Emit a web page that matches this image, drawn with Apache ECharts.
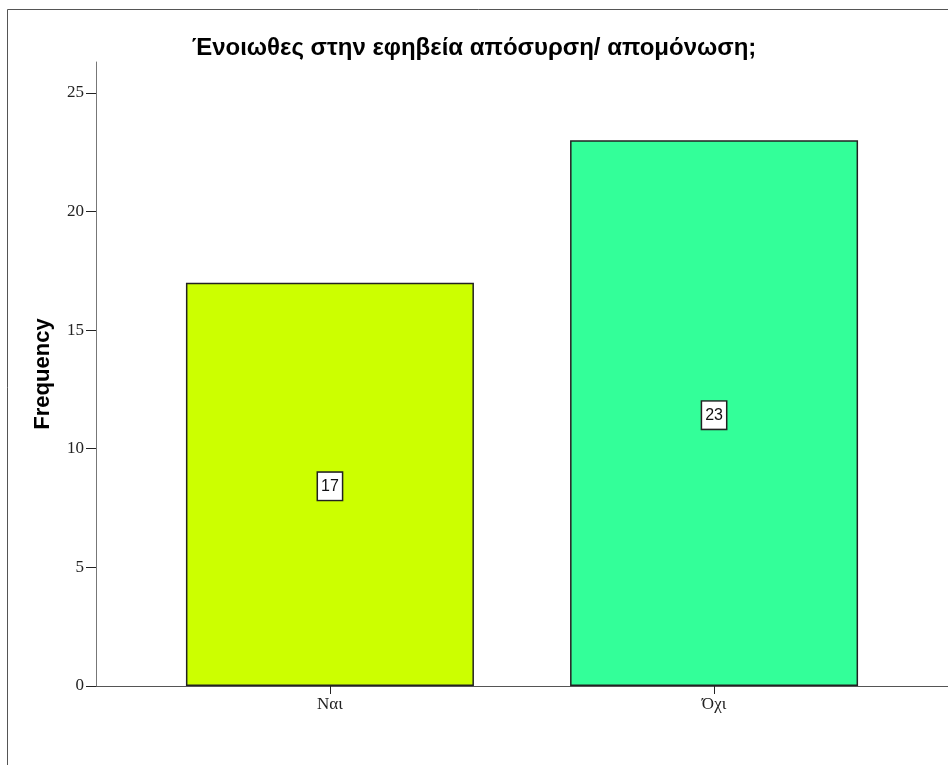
<!DOCTYPE html>
<html><head><meta charset="utf-8">
<script src="https://cdn.jsdelivr.net/npm/echarts@6/dist/echarts.min.js"></script>
<style>html,body{margin:0;padding:0;background:#fff}#c{width:948px;height:765px}</style>
</head><body><div id="c"></div>
<script>
const titleText = 'Ένοιωθες στην εφηβεία απόσυρση/ απομόνωση;';
const categories = ['Ναι', 'Όχι'];
const frequencies = [17, 23];
const barColors = ['#ccff00', '#33ff99'];
const yTicks = [0, 5, 10, 15, 20, 25];
const xTickPositions = [0, 1];

const chart = echarts.init(document.getElementById('c'), null, {renderer: 'canvas'});
chart.setOption({
  backgroundColor: '#ffffff',
  animation: false,
  title: {
    text: titleText, left: 'center', top: 31,
    textStyle: {fontFamily: 'Liberation Sans', fontSize: 24, fontWeight: 'bold', color: '#000'}
  },
  graphic: [{
    type: 'rect', silent: true,
    shape: {x: 7.5, y: 9.5, width: 1100, height: 1100},
    style: {fill: 'none', stroke: '#555', lineWidth: 1}
  }],
  grid: {left: 96, right: 0, top: 62, bottom: 79, containLabel: false, outerBoundsMode: 'none'},
  xAxis: {
    type: 'value', min: -0.609, max: 1.609,
    splitLine: {show: false},
    axisLine: {show: true, onZero: false, lineStyle: {color: '#555', width: 1}},
    axisTick: {show: true, customValues: xTickPositions, length: 8, lineStyle: {color: '#222'}},
    axisLabel: {
      customValues: xTickPositions, margin: 10,
      formatter: v => categories[Math.round(v)] || '',
      fontFamily: 'Liberation Serif', fontSize: 17, color: '#222'
    }
  },
  yAxis: {
    type: 'value', min: 0, max: 26.3,
    name: 'Frequency', nameLocation: 'middle', nameRotate: 90, nameGap: 42,
    nameTextStyle: {fontFamily: 'Liberation Sans', fontSize: 22, fontWeight: 'bold', color: '#000'},
    splitLine: {show: false},
    axisLine: {show: true, onZero: false, lineStyle: {color: '#777', width: 1}},
    axisTick: {show: true, customValues: yTicks, length: 10, lineStyle: {color: '#222'}},
    axisLabel: {customValues: yTicks, margin: 12, fontFamily: 'Liberation Serif', fontSize: 17, color: '#222'}
  },
  series: [{
    type: 'bar',
    barWidth: 288,
    data: categories.map((c, i) => ({value: [i, frequencies[i]], itemStyle: {color: barColors[i]}})),
    itemStyle: {borderColor: '#222', borderWidth: 1.5},
    label: {
      show: true, position: 'inside', offset: [0, 2],
      formatter: p => String(p.value[1]),
      fontFamily: 'Liberation Sans', fontSize: 16, lineHeight: 16, color: '#111',
      backgroundColor: '#fff', borderColor: '#222', borderWidth: 1.5,
      padding: [6, 3, 5, 3]
    }
  }]
});
</script></body></html>
